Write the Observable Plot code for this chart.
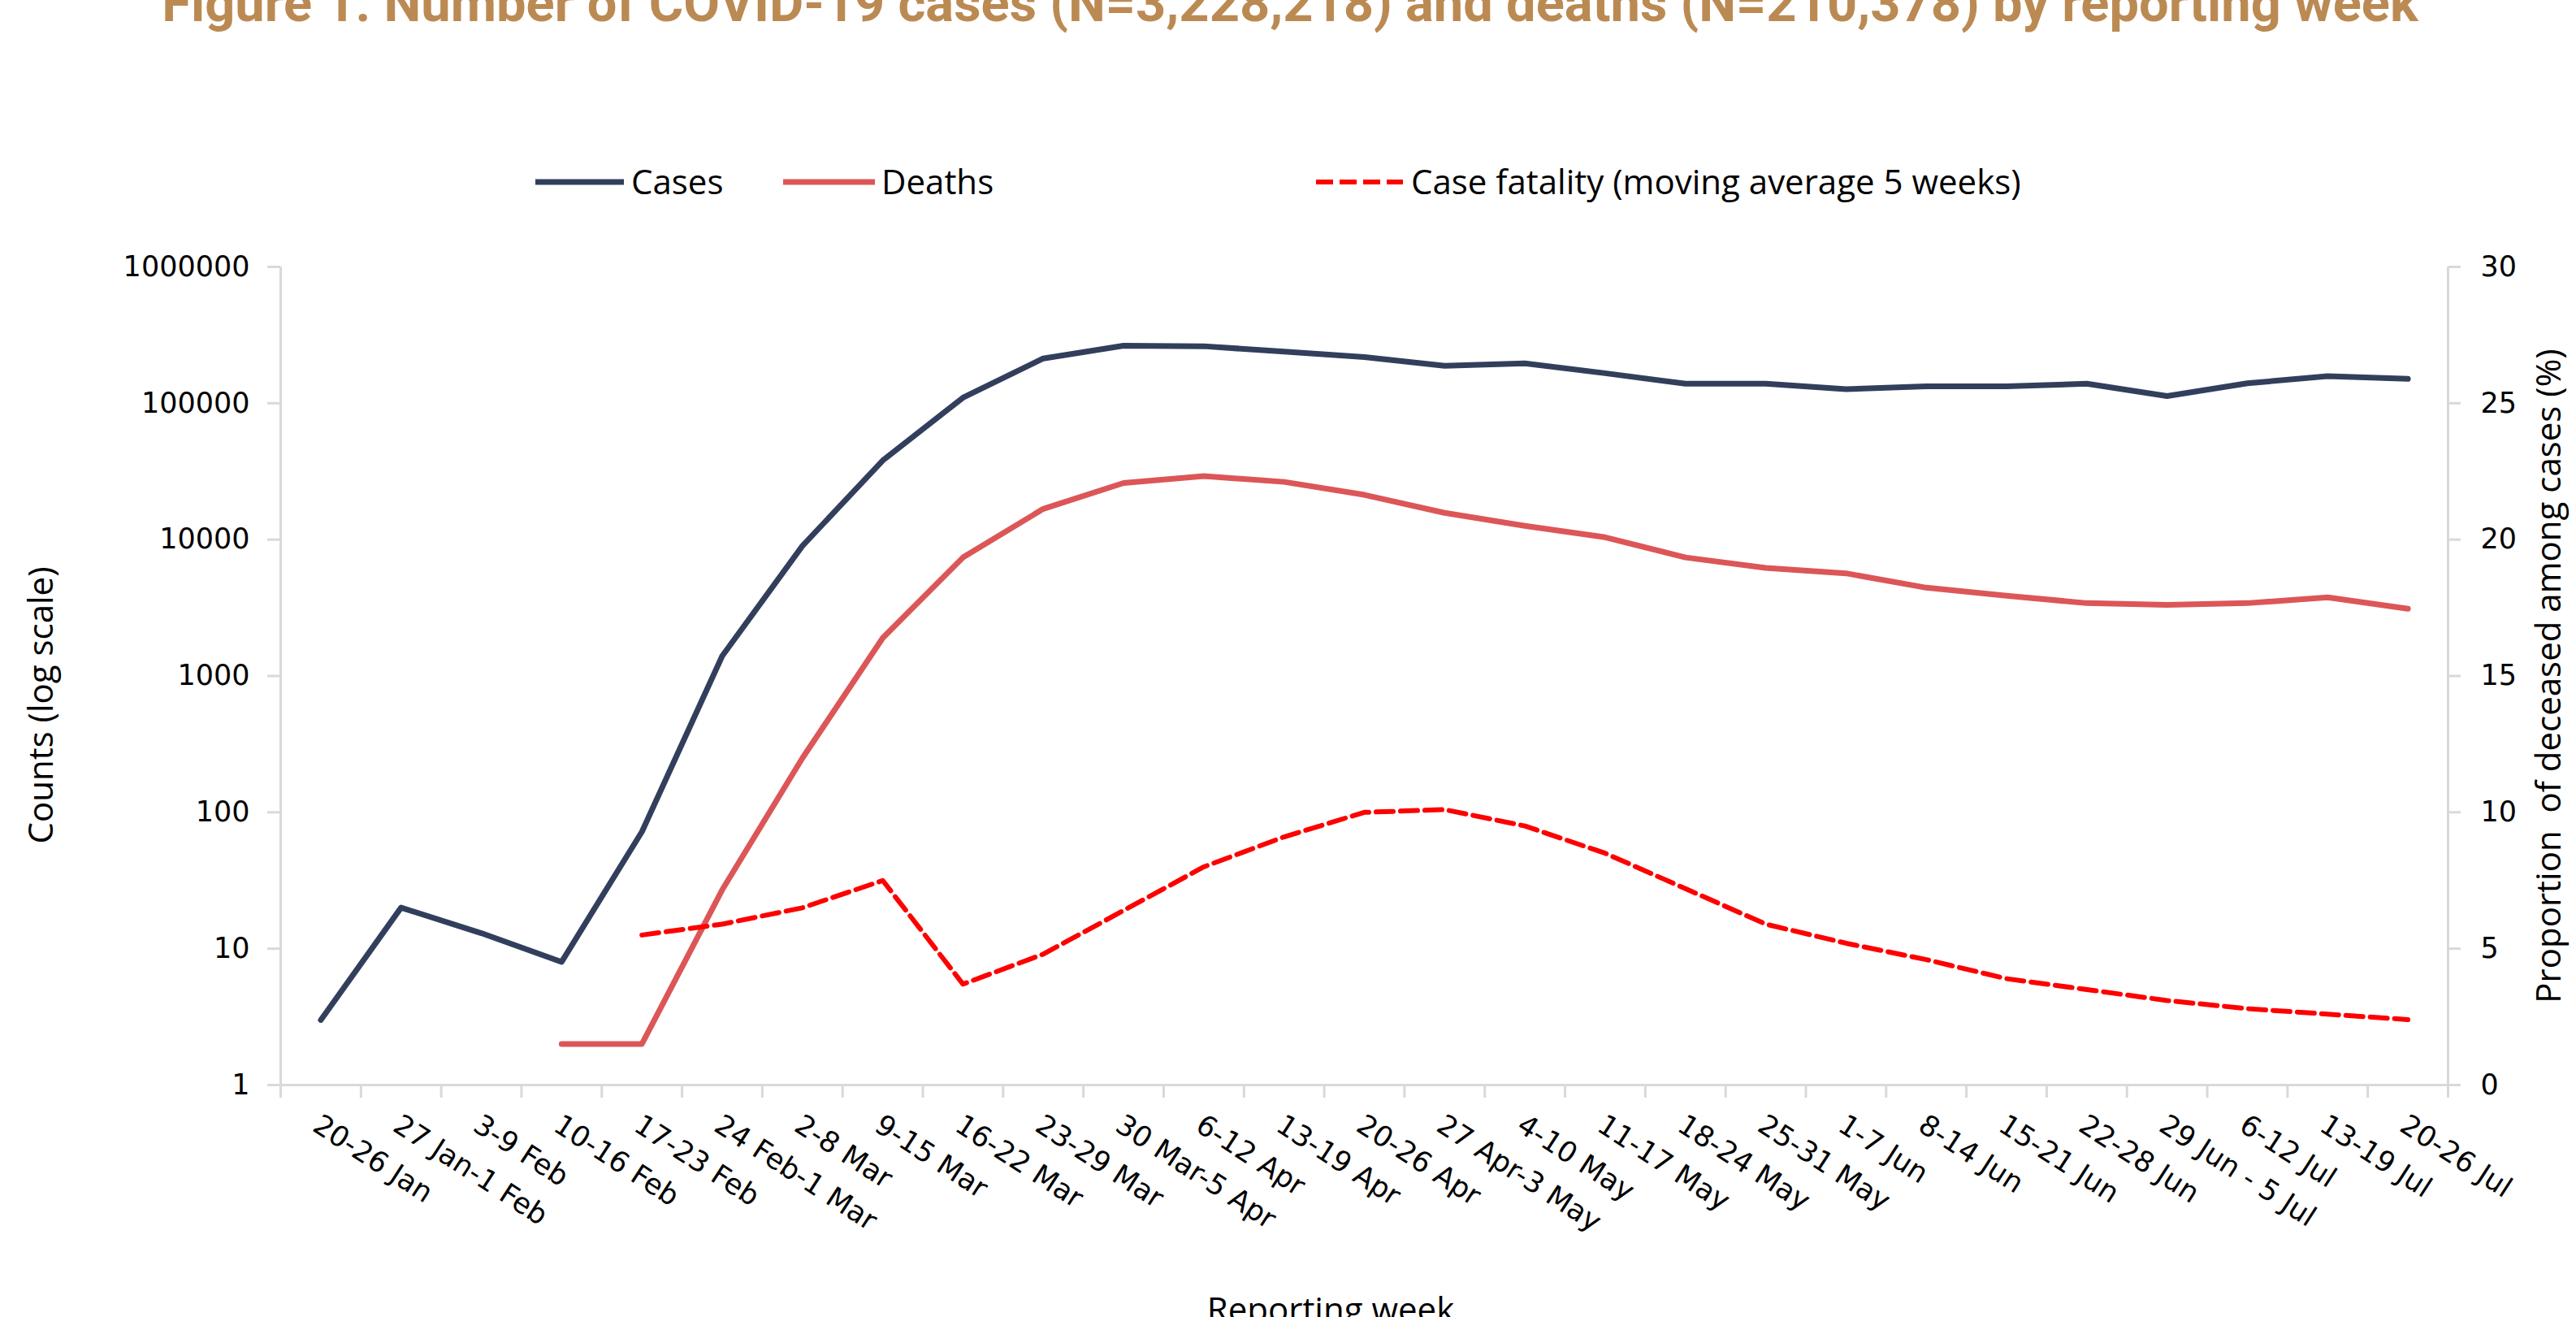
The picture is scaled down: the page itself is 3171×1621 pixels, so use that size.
<!DOCTYPE html>
<html>
<head>
<meta charset="utf-8">
<script src="https://cdn.jsdelivr.net/npm/d3@7"></script>
<script src="https://cdn.jsdelivr.net/npm/@observablehq/plot@0.6"></script>
<style>
  html, body { margin: 0; padding: 0; background: #fff; }
  body { width: 3171px; height: 1621px; overflow: hidden; position: relative; }
  #chart { position: absolute; left: 0; top: 0; }
  .abs { position: absolute; white-space: nowrap; line-height: 1; }
  .title { font-family: Roboto, sans-serif; font-weight: 700; font-size: 65px; color: #BB8A53; }
  .lab { font-family: "Open Sans", sans-serif; font-size: 42px; color: #000; }
  .swatch { position: absolute; }
</style>
</head>
<body>
<div id="chart"></div>
<script>
// ---- data ----
const weeks = [
  "20-26 Jan", "27 Jan-1 Feb", "3-9 Feb", "10-16 Feb", "17-23 Feb", "24 Feb-1 Mar",
  "2-8 Mar", "9-15 Mar", "16-22 Mar", "23-29 Mar", "30 Mar-5 Apr", "6-12 Apr",
  "13-19 Apr", "20-26 Apr", "27 Apr-3 May", "4-10 May", "11-17 May", "18-24 May",
  "25-31 May", "1-7 Jun", "8-14 Jun", "15-21 Jun", "22-28 Jun", "29 Jun - 5 Jul",
  "6-12 Jul", "13-19 Jul", "20-26 Jul"
];
const cases = [3, 20, 13, 8, 72, 1400, 9000, 38000, 110000, 213000, 264000, 262000,
  239000, 218000, 188000, 196000, 166000, 139000, 139000, 127000, 133000, 133000,
  139000, 113000, 140000, 158000, 151000];
const deaths = [null, null, null, 2, 2, 27, 250, 1900, 7400, 16800, 26000, 29200,
  26500, 21300, 15700, 12600, 10400, 7400, 6200, 5660, 4440, 3880,
  3420, 3320, 3420, 3770, 3110];
const caseFatality = [null, null, null, null, 5.5, 5.9, 6.5, 7.5, 3.7, 4.8, 6.4, 8.0,
  9.1, 10.0, 10.1, 9.5, 8.5, 7.2, 5.9, 5.2, 4.6, 3.9, 3.5, 3.1, 2.8, 2.6, 2.4];
const leftTicks = [1, 10, 100, 1000, 10000, 100000, 1000000];
const rightTicks = [0, 5, 10, 15, 20, 25, 30];

const titleText = "Figure 1. Number of COVID-19 cases (N=3,228,218) and deaths (N=210,378) by reporting week";
const seriesNames = ["Cases", "Deaths", "Case fatality (moving average 5 weeks)"];
const colors = {cases: "#323F5C", deaths: "#DC5658", cf: "#FF0000"};

// ---- table ----
const rows = weeks.map((w, i) => ({i, week: w, cases: cases[i], deaths: deaths[i], cf: caseFatality[i]}));
// right axis (0-30 %) shares the plot height with left log axis (1 - 1e6)
const cfToY = v => Math.pow(10, v / 5);
const yToCf = y => Math.round(Math.log10(y) * 5);

const gridColor = "#D9D9D9";

const chart = Plot.plot({
  width: 3171,
  height: 1621,
  marginLeft: 345,
  marginRight: 158,
  marginTop: 328,
  marginBottom: 286,
  style: {fontFamily: "DejaVu Sans", fontSize: "35px", background: "transparent", color: "#000"},
  x: {type: "linear", domain: [0, weeks.length], axis: null},
  y: {type: "log", domain: [1, 1000000], axis: null},
  marks: [
    // axis lines
    Plot.ruleY([1], {stroke: gridColor, strokeWidth: 3}),
    Plot.ruleX([0, weeks.length], {stroke: gridColor, strokeWidth: 3}),
    // left axis
    Plot.axisY({anchor: "left", ticks: leftTicks, tickFormat: d => String(d), tickSize: 16, tickPadding: 22,
      stroke: gridColor, strokeWidth: 3, fill: "#000", label: null}),
    // right axis
    Plot.axisY({anchor: "right", ticks: rightTicks.map(cfToY), tickFormat: yToCf, tickSize: 15, tickPadding: 25,
      stroke: gridColor, strokeWidth: 3, fill: "#000", label: null}),
    // x tick marks at band boundaries
    Plot.axisX({ticks: d3.range(weeks.length + 1), tickFormat: () => "", tickSize: 16,
      stroke: gridColor, strokeWidth: 3, label: null}),
    // x labels
    Plot.text(rows, {x: d => d.i + 0.5, frameAnchor: "bottom", text: "week", rotate: 33,
      textAnchor: "start", dx: -12, dy: 55, fontSize: 35, fill: "#000"}),
    // axis titles
    Plot.text(["Counts (log scale)"], {frameAnchor: "left", textAnchor: "middle", dx: -294, dy: 36, rotate: -90,
      fontFamily: "Open Sans", fontSize: 42, fill: "#000"}),
    Plot.text(["Proportion  of deceased among cases (%)"], {frameAnchor: "right", textAnchor: "middle", dx: 125, dy: 0, rotate: -90,
      fontFamily: "Open Sans", fontSize: 42, fill: "#000"}),
    // series
    Plot.line(rows, {x: d => d.i + 0.5, y: "cases", stroke: colors.cases, strokeWidth: 7,
      strokeLinejoin: "round", strokeLinecap: "round"}),
    Plot.line(rows.filter(d => d.deaths != null), {x: d => d.i + 0.5, y: "deaths", stroke: colors.deaths, strokeWidth: 7,
      strokeLinejoin: "round", strokeLinecap: "round"}),
    Plot.line(rows.filter(d => d.cf != null), {x: d => d.i + 0.5, y: d => cfToY(d.cf), stroke: colors.cf, strokeWidth: 6,
      strokeDasharray: "21,9", strokeLinejoin: "round"})
  ]
});
document.getElementById("chart").appendChild(chart);

// ---- title, legend, x-axis title (HTML) ----
function addDiv(cls, text, css) {
  const d = document.createElement("div");
  d.className = "abs " + cls;
  d.textContent = text;
  Object.assign(d.style, css);
  document.body.appendChild(d);
  return d;
}
addDiv("title", titleText, {left: "1588px", top: "-28px", transform: "translateX(-50%)"});

function swatch(x1, x2, y, color, dashed) {
  const ns = "http://www.w3.org/2000/svg";
  const s = document.createElementNS(ns, "svg");
  s.setAttribute("class", "swatch");
  s.setAttribute("width", x2 - x1);
  s.setAttribute("height", 20);
  s.style.left = x1 + "px";
  s.style.top = (y - 10) + "px";
  const l = document.createElementNS(ns, "line");
  l.setAttribute("x1", 0); l.setAttribute("x2", x2 - x1);
  l.setAttribute("y1", 10); l.setAttribute("y2", 10);
  l.setAttribute("stroke", color);
  l.setAttribute("stroke-width", dashed ? 6 : 7);
  if (dashed) l.setAttribute("stroke-dasharray", "21,8");
  s.appendChild(l);
  document.body.appendChild(s);
}
swatch(659, 768, 224, colors.cases, false);
swatch(964, 1077, 224, colors.deaths, false);
swatch(1620, 1727, 224, colors.cf, true);
addDiv("lab", seriesNames[0], {left: "777px", top: "202px"});
addDiv("lab", seriesNames[1], {left: "1085px", top: "202px"});
addDiv("lab", seriesNames[2], {left: "1737px", top: "202px"});
addDiv("lab", "Reporting week", {left: "1638px", top: "1590px", transform: "translateX(-50%)"});
</script>
</body>
</html>
